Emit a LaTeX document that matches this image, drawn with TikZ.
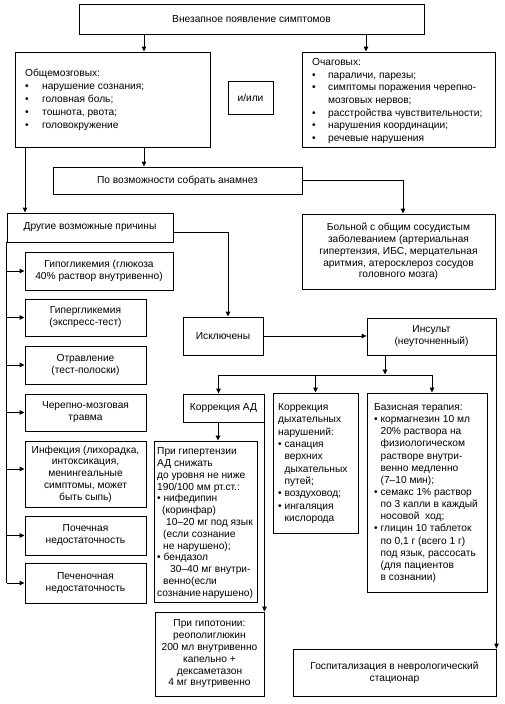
\documentclass[tikz,border=0pt]{standalone}
\usepackage{fontspec}
\setmainfont{Liberation Sans}
\usetikzlibrary{arrows.meta,calc}
\newcommand\bu{•\ }
\newcommand\ind{\hphantom{•\ }}
\newcommand\bbu{\makebox[17pt][l]{•}}
\newcommand\bbv{\makebox[16pt][l]{•}}
\tikzset{
  box/.style={draw, line width=0.9pt, inner sep=0pt, align=center, font=\fontsize{10.2}{12}\selectfont},
  txt/.style={inner sep=0pt, align=left, anchor=west, font=\fontsize{10.2}{12}\selectfont},
  arr/.style={line width=0.9pt, -{Triangle[length=5pt,width=4.5pt]}},
  ln/.style={line width=0.9pt}
}
\begin{document}
\begin{tikzpicture}[x=1pt,y=-1pt]
\useasboundingbox (0,0) rectangle (504,704);
% boxes
\node[box, minimum width=345pt, minimum height=30pt] (top) at (251.5,19) {Внезапное появление симптомов};
\node[box, minimum width=195pt, minimum height=95pt] (obsh) at (112.5,99.5) {};
\node[txt, font=\fontsize{10.2}{13}\selectfont] (obshT) at (25,100) {Общемозговых:\\ \bbu нарушение сознания;\\ \bbu головная боль;\\ \bbu тошнота, рвота;\\ \bbu головокружение};
\node[box, minimum width=45pt, minimum height=33pt] (ili) at (250.5,97.5) {и/или};
\node[box, minimum width=193pt, minimum height=95pt] (ochag) at (398.5,99.5) {};
\node[txt, font=\fontsize{10.2}{12.7}\selectfont] (ochagT) at (312,101) {Очаговых:\\ \bbv параличи, парезы;\\ \bbv симптомы поражения черепно-\\ \hspace*{16pt}мозговых нервов;\\ \bbv расстройства чувствительности;\\ \bbv нарушения координации;\\ \bbv речевые нарушения};
\node[box, minimum width=249pt, minimum height=27pt] (anam) at (177.5,180.5) {По возможности собрать анамнез};
\node[box, minimum width=166pt, minimum height=29pt] (drugie) at (90,227.5) {Другие возможные причины};
\node[box, minimum width=193pt, minimum height=75pt, font=\fontsize{10.2}{11.8}\selectfont] (bolnoy) at (398.5,251.5) {Больной с общим сосудистым\\ заболеванием (артериальная\\ гипертензия, ИБС, мерцательная\\ аритмия, атеросклероз сосудов\\ головного мозга)};
\node[box, minimum width=148pt, minimum height=38pt] (gipo) at (99,271) {Гипогликемия (глюкоза\\ 40\% раствор внутривенно)};
\node[box, minimum width=121pt, minimum height=37pt] (giper) at (85.5,317.5) {Гипергликемия\\ (экспресс-тест)};
\node[box, minimum width=121pt, minimum height=38pt] (otrav) at (85.5,365) {Отравление\\ (тест-полоски)};
\node[box, minimum width=121pt, minimum height=37pt] (chmt) at (85.5,412.5) {Черепно-мозговая\\ травма};
\node[box, minimum width=121pt, minimum height=66pt, font=\fontsize{10.2}{11.8}\selectfont] (infek) at (85.5,474) {Инфекция (лихорадка,\\ интоксикация,\\ менингеальные\\ симптомы, может\\ быть сыпь)};
\node[box, minimum width=121pt, minimum height=39pt] (poch) at (85.5,535.5) {Почечная\\ недостаточность};
\node[box, minimum width=121pt, minimum height=40pt] (pechen) at (85.5,583) {Печеночная\\ недостаточность};
\node[box, minimum width=80pt, minimum height=38pt] (iskl) at (223,336) {Исключены};
\node[box, minimum width=129pt, minimum height=37pt] (insult) at (431.5,336.5) {Инсульт\\ (неуточненный)};
\node[box, minimum width=81pt, minimum height=28pt] (korAD) at (223.5,408) {Коррекция АД};
\node[box, minimum width=85pt, minimum height=140pt] (dyh) at (315.5,463) {};
\node[txt, font=\fontsize{10.2}{12.3}\selectfont] (dyhT) at (278,463.5) {Коррекция\\ дыхательных\\ нарушений:\\ \bu санация\\ \ind верхних\\ \ind дыхательных\\ \ind путей;\\ \bu воздуховод;\\ \bu ингаляция\\ \ind кислорода};
\node[box, minimum width=120pt, minimum height=199pt] (baz) at (427,492.5) {};
\node[txt, font=\fontsize{10.2}{12.15}\selectfont] (bazT) at (374,493) {Базисная терапия:\\ \bu кормагнезин 10 мл\\ \ind 20\% раствора на\\ \ind физиологическом\\ \ind растворе внутри-\\ \ind венно медленно\\ \ind (7–10 мин);\\ \bu семакс 1\% раствор\\ \ind по 3 капли в каждый\\ \ind носовой\ \ ход;\\ \bu глицин 10 таблеток\\ \ind по 0,1 г (всего 1 г)\\ \ind под язык, рассосать\\ \ind (для пациентов\\ \ind в сознании)};
\node[box, minimum width=103pt, minimum height=161pt] (gipert) at (205.5,521.5) {};
\node[txt, font=\fontsize{10.2}{11.8}\selectfont] (gipertT) at (157,523) {При гипертензии\\ АД снижать\\ до уровня не ниже\\ 190/100 мм рт.ст.:\\ \bu нифедипин\\ \hspace*{5pt}(коринфар)\\ \hspace*{9pt}10–20 мг под язык\\ \hspace*{6pt}(если сознание\\ \hspace*{6pt}не нарушено);\\ \bu бендазол\\ \hspace*{13pt}30–40 мг внутри-\\ \hspace*{6pt}венно(если\\ сознание\hspace{1.5pt}нарушено)};
\node[box, minimum width=109pt, minimum height=84pt, font=\fontsize{10.2}{11.8}\selectfont] (gipot) at (209.5,654) {При гипотонии:\\ реополиглюкин\\ 200 мл внутривенно\\ капельно +\\ дексаметазон\\ 4 мг внутривенно};
\node[box, minimum width=203pt, minimum height=47pt] (gosp) at (394.5,672.5) {Госпитализация в неврологический\\ стационар};
% connectors
\draw[arr] ([xshift=-107.5pt]top.south) -- ([xshift=-107.5pt]top.south |- obsh.north);
\draw[arr] ([xshift=114.5pt]top.south) -- ([xshift=114.5pt]top.south |- ochag.north);
\draw[arr] ([xshift=31.5pt]obsh.south) -- ([xshift=31.5pt]obsh.south |- anam.north);
\draw[arr] ([xshift=-87.5pt]obsh.south) -- ([xshift=-87.5pt]obsh.south |- drugie.north);
\draw[arr] (anam.east) -| ([xshift=4.5pt]bolnoy.north);
\draw[arr] ([yshift=-5pt]drugie.east) -| ([xshift=5pt]iskl.north);
\draw[ln] (drugie.south west) -- (drugie.south west |- pechen.west);
\draw[arr] (drugie.south west |- gipo.west) -- (gipo.west);
\draw[arr] (drugie.south west |- giper.west) -- (giper.west);
\draw[arr] (drugie.south west |- otrav.west) -- (otrav.west);
\draw[arr] (drugie.south west |- chmt.west) -- (chmt.west);
\draw[arr] ([yshift=5pt]drugie.south west |- infek.west) -- ([yshift=5pt]infek.west);
\draw[arr] (drugie.south west |- poch.west) -- (poch.west);
\draw[arr] (drugie.south west |- pechen.west) -- (pechen.west);
\draw[arr] (iskl.east) -- (iskl.east -| insult.west);
\coordinate (j) at (385,375);
\coordinate (jl) at (218.5,375);
\coordinate (jr) at (432,375);
\draw[arr] (j |- insult.south) -- ([yshift=0.5pt]j);
\draw[ln] (jl) -- (jr);
\draw[arr] (jl) -- (jl |- korAD.north);
\draw[arr] (j -| dyh.north) -- (dyh.north);
\draw[arr] (jr) -- (jr |- baz.north);
\draw[arr] (insult.south east) -- (gosp.north east);
\draw[arr] ([xshift=-5.5pt]korAD.south) -- ([xshift=-5.5pt]korAD.south |- gipert.north);
\draw[arr] (korAD.south east) -- (gipot.north east);
\end{tikzpicture}
\end{document}
